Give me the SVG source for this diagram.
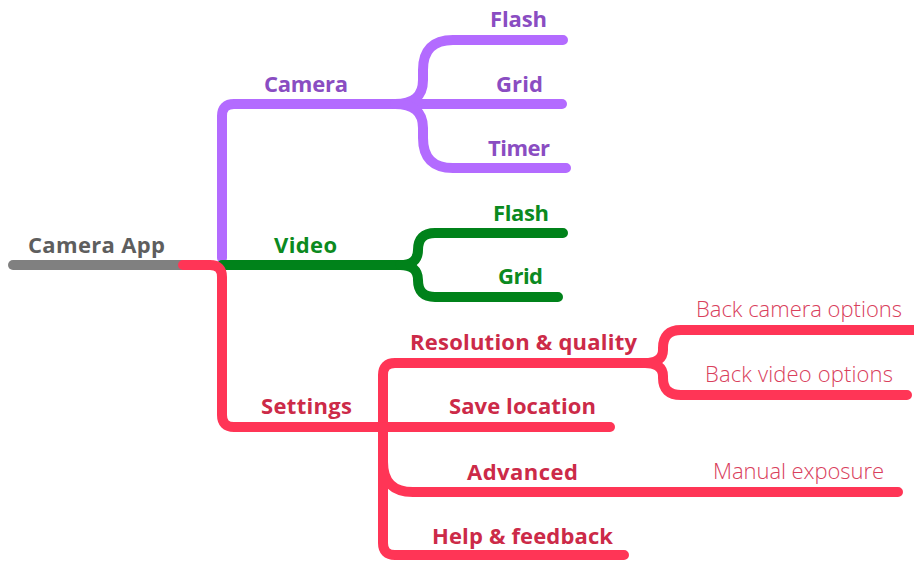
<svg xmlns="http://www.w3.org/2000/svg" width="914" height="561" viewBox="0 0 914 561">
<style>
  .ln{fill:none;stroke-width:10;stroke-linecap:round;stroke-linejoin:round}
  .gray{stroke:#808080}
  .pur{stroke:#B36BFF}
  .grn{stroke:#00821A}
  .red{stroke:#FF3556}
  text{font-family:"Open Sans","Noto Sans","Liberation Sans",sans-serif;font-size:22px}
  .b{font-weight:700}
  .lt{font-weight:300}
  .tg{fill:#5E5E5E}
  .tp{fill:#8A4DC2}
  .tgr{fill:#0B8A20}
  .tr{fill:#CC2A48}
  .tl{fill:#D9405C}
</style>
<rect width="914" height="561" fill="#FFFFFF"/>
<g id="connectors">
  <path class="ln gray" d="M13,265 L183,265"/>
  <path class="ln pur" d="M222,258 L222,116 Q222,104 234,104 L400,104"/>
  <path class="ln pur" d="M395,104 Q423,104 423,80 L423,70 Q423,40 453,40 L563,40"/>
  <path class="ln pur" d="M395,104 L562,104"/>
  <path class="ln pur" d="M395,104 Q423,104 423,128 L423,138 Q423,168 453,168 L566,168"/>
  <path class="ln grn" d="M222,265 L402,265"/>
  <path class="ln grn" d="M400,265 Q418,265 418,250 Q418,233 435,233 L563,233"/>
  <path class="ln grn" d="M400,265 Q418,265 418,280 Q418,297 435,297 L558,297"/>
  <path class="ln red" d="M183,265 L210,265 Q222,265 222,277 L222,415 Q222,427 234,427 L383,427"/>
  <path class="ln red" d="M383,427 L383,375 Q383,363 395,363 L648,363"/>
  <path class="ln red" d="M645,363 Q663,363 663,350 L663,348 Q663,330 681,330 L925,330"/>
  <path class="ln red" d="M645,363 Q663,363 663,376 L663,378 Q663,395 681,395 L907,395"/>
  <path class="ln red" d="M383,427 L610,427"/>
  <path class="ln red" d="M383,427 L383,462 Q383,492 413,492 L898,492"/>
  <path class="ln red" d="M383,427 L383,543 Q383,555 395,555 L624,555"/>
</g>
<g id="node-root"><text class="b tg" x="28" y="253" textLength="137">Camera App</text></g>
<g id="node-camera"><text class="b tp" x="264" y="92" textLength="84">Camera</text></g>
<g id="node-camera-flash"><text class="b tp" x="490" y="27" textLength="57">Flash</text></g>
<g id="node-camera-grid"><text class="b tp" x="496" y="92" textLength="47">Grid</text></g>
<g id="node-camera-timer"><text class="b tp" x="488" y="156" textLength="62">Timer</text></g>
<g id="node-video"><text class="b tgr" x="274" y="253" textLength="63">Video</text></g>
<g id="node-video-flash"><text class="b tgr" x="493" y="221" textLength="56">Flash</text></g>
<g id="node-video-grid"><text class="b tgr" x="498" y="284" textLength="45">Grid</text></g>
<g id="node-settings"><text class="b tr" x="261" y="414" textLength="91">Settings</text></g>
<g id="node-resolution"><text class="b tr" x="410" y="350" textLength="227">Resolution &amp; quality</text></g>
<g id="node-back-camera"><text class="lt tl" x="696" y="317" textLength="206">Back camera options</text></g>
<g id="node-back-video"><text class="lt tl" x="705" y="382" textLength="188">Back video options</text></g>
<g id="node-save-location"><text class="b tr" x="449" y="414" textLength="147">Save location</text></g>
<g id="node-advanced"><text class="b tr" x="467" y="480" textLength="111">Advanced</text></g>
<g id="node-manual-exposure"><text class="lt tl" x="713" y="479" textLength="171">Manual exposure</text></g>
<g id="node-help"><text class="b tr" x="432" y="544" textLength="181">Help &amp; feedback</text></g>
</svg>
